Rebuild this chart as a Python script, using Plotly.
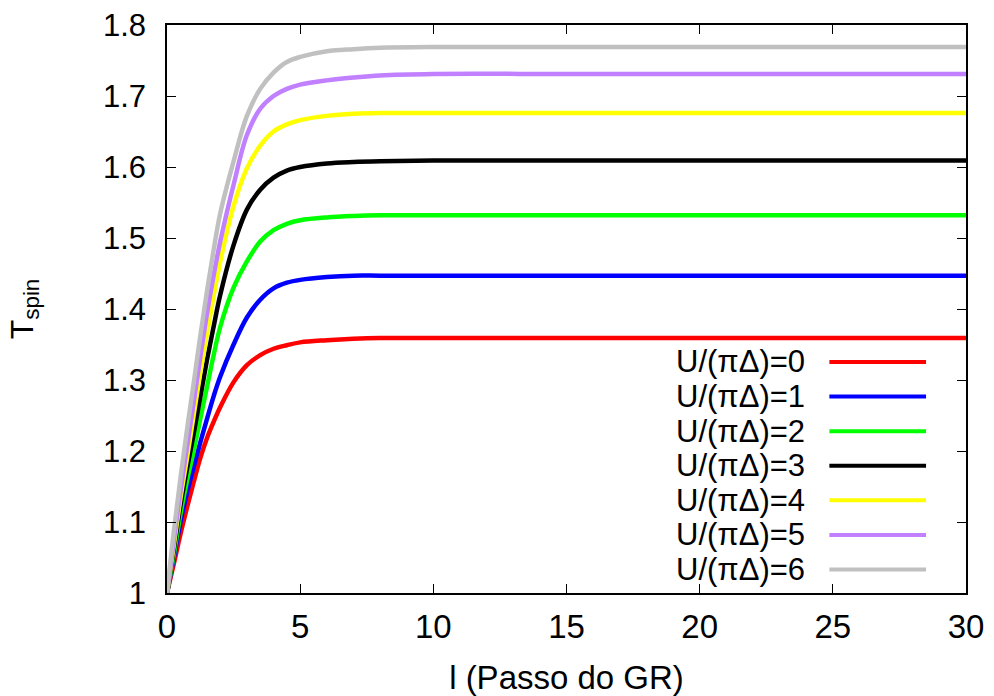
import plotly.graph_objects as go

# RG step values
l_steps = [0, 0.25, 0.5, 0.75, 1, 1.25, 1.5, 1.75, 2, 2.5, 3, 3.5, 4, 4.5, 5, 6, 7, 8, 10, 15, 20, 30]

T_U0 = [1.0, 1.040, 1.082, 1.120, 1.156, 1.190, 1.218, 1.241, 1.262, 1.297, 1.321, 1.335, 1.344, 1.349, 1.353, 1.356, 1.358, 1.359, 1.359, 1.359, 1.359, 1.359]
T_U1 = [1.0, 1.048, 1.099, 1.141, 1.177, 1.212, 1.245, 1.277, 1.305, 1.350, 1.388, 1.413, 1.429, 1.437, 1.441, 1.445, 1.447, 1.447, 1.447, 1.447, 1.447, 1.447]
T_U2 = [1.0, 1.053, 1.110, 1.158, 1.200, 1.245, 1.290, 1.335, 1.375, 1.430, 1.467, 1.495, 1.511, 1.520, 1.525, 1.529, 1.531, 1.532, 1.532, 1.532, 1.532, 1.532]
T_U3 = [1.0, 1.060, 1.122, 1.175, 1.224, 1.276, 1.328, 1.375, 1.420, 1.490, 1.540, 1.568, 1.585, 1.595, 1.600, 1.605, 1.607, 1.608, 1.609, 1.609, 1.609, 1.609]
T_U4 = [1.0, 1.066, 1.132, 1.190, 1.250, 1.310, 1.365, 1.418, 1.467, 1.545, 1.598, 1.630, 1.650, 1.660, 1.666, 1.672, 1.675, 1.676, 1.676, 1.676, 1.676, 1.676]
T_U5 = [1.0, 1.072, 1.142, 1.205, 1.268, 1.332, 1.393, 1.447, 1.495, 1.575, 1.645, 1.682, 1.700, 1.710, 1.716, 1.722, 1.726, 1.729, 1.731, 1.731, 1.731, 1.731]
T_U6 = [1.0, 1.085, 1.160, 1.230, 1.295, 1.362, 1.425, 1.483, 1.535, 1.608, 1.672, 1.710, 1.733, 1.748, 1.755, 1.763, 1.766, 1.768, 1.769, 1.769, 1.769, 1.769]

series = [T_U0, T_U1, T_U2, T_U3, T_U4, T_U5, T_U6]
labels = ["U/(\u03c0\u0394)=0", "U/(\u03c0\u0394)=1", "U/(\u03c0\u0394)=2", "U/(\u03c0\u0394)=3",
          "U/(\u03c0\u0394)=4", "U/(\u03c0\u0394)=5", "U/(\u03c0\u0394)=6"]
colors = ["#ff0000", "#0000ff", "#00ff00", "#000000", "#ffff00", "#c080ff", "#c0c0c0"]

x_ticks = [0, 5, 10, 15, 20, 25, 30]
y_ticks = [1, 1.1, 1.2, 1.3, 1.4, 1.5, 1.6, 1.7, 1.8]
y_tick_text = ["1", "1.1", "1.2", "1.3", "1.4", "1.5", "1.6", "1.7", "1.8"]

fig = go.Figure()
for ys, name, c in zip(series, labels, colors):
    fig.add_trace(go.Scatter(x=l_steps, y=ys, mode="lines", name=name,
                             line=dict(color=c, width=4.5, shape="spline", smoothing=1.0),
                             showlegend=False))

# gnuplot-style key: text right-aligned, sample line on the right
row0 = 0.4067
dy = 0.0609
for i, (name, c) in enumerate(zip(labels, colors)):
    yy = row0 - i * dy
    fig.add_annotation(x=0.801, y=yy, xref="paper", yref="paper", text=name,
                       showarrow=False, xanchor="right", yanchor="middle",
                       font=dict(family="Liberation Sans, Arial, sans-serif", size=31, color="black"))
    fig.add_shape(type="line", xref="paper", yref="paper", x0=0.829, x1=0.950, y0=yy, y1=yy,
                  line=dict(color=c, width=4))

sans = "Liberation Sans, Arial, sans-serif"
fig.update_layout(
    width=994, height=696,
    margin=dict(l=167, r=28, t=25, b=103),
    paper_bgcolor="white", plot_bgcolor="white",
    xaxis=dict(range=[0, 30], tickvals=x_ticks, ticks="inside", ticklen=9, tickwidth=1.2,
               tickcolor="black", mirror="ticks", showline=True, linecolor="black", linewidth=1.5,
               showgrid=False, zeroline=False, ticklabelstandoff=4, automargin=False,
               tickfont=dict(family=sans, size=33, color="black"),
               title=dict(text="l (Passo do GR)", font=dict(family=sans, size=33, color="black"),
                          standoff=29)),
    yaxis=dict(range=[1, 1.8], tickvals=y_ticks, ticktext=y_tick_text, ticks="inside", ticklen=9,
               tickwidth=1.2, tickcolor="black", mirror="ticks", showline=True, linecolor="black",
               linewidth=1.5, showgrid=False, zeroline=False, ticklabelstandoff=13, automargin=False,
               tickfont=dict(family=sans, size=31, color="black"),
               title=dict(text="T<sub>spin</sub>", font=dict(family=sans, size=32, color="black"),
                          standoff=60)),
)

fig.write_html("out.html", config={"displayModeBar": False},
               post_script="document.body.style.margin='0';document.body.style.overflow='hidden';")
